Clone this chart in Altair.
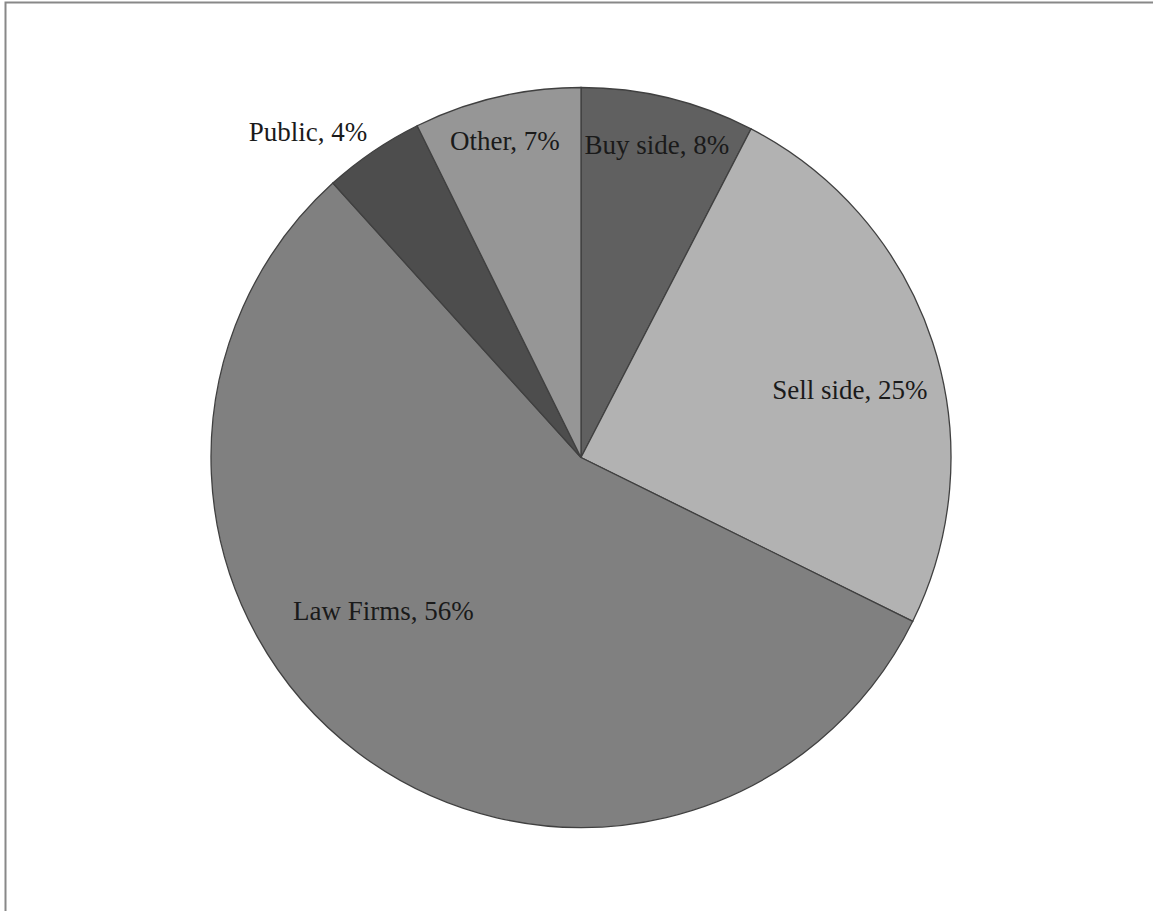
import altair as alt
import pandas as pd

categories = ["Buy side", "Sell side", "Law Firms", "Public", "Other"]
values = [7.6, 24.7, 56.0, 4.4, 7.3]
labels = ["Buy side, 8%", "Sell side, 25%", "Law Firms, 56%", "Public, 4%", "Other, 7%"]
colors = ["#606060", "#b2b2b2", "#808080", "#4d4d4d", "#969696"]

df = pd.DataFrame({"cat": categories, "value": values, "label": labels,
                   "idx": list(range(len(categories)))})

CX, CY, R = 581, 457.5, 370
# label placement (radius in px, angle shift in degrees)
label_r = {"Buy side": 321, "Sell side": 277, "Law Firms": 251, "Public": 424, "Other": 325}
label_shift = {"Buy side": 0, "Sell side": 4.3, "Law Firms": 14.9, "Public": -5.9, "Other": -0.4}

r_expr = " : ".join([f"datum.cat == '{k}' ? {v}" for k, v in label_r.items()]) + " : 300"
s_expr = " : ".join([f"datum.cat == '{k}' ? {v}" for k, v in label_shift.items()]) + " : 0"

base = alt.Chart(df)

pie = base.mark_arc(outerRadius=R, stroke="#404040", strokeWidth=1.3).encode(
    theta=alt.Theta("value:Q", stack=True),
    order=alt.Order("idx:Q"),
    color=alt.Color("cat:N", scale=alt.Scale(domain=categories, range=colors), legend=None),
    x=alt.value(CX),
    y=alt.value(CY),
)

text = base.transform_window(
    cum="sum(value)", sort=[alt.SortField("idx")]
).transform_calculate(
    lr=r_expr, ls=s_expr
).transform_calculate(
    ang="(datum.cum - datum.value/2)/100*2*PI + datum.ls*PI/180"
).transform_calculate(
    px=f"{CX} + datum.lr*sin(datum.ang)",
    py=f"{CY} - datum.lr*cos(datum.ang)",
).mark_text(font="Liberation Serif", fontSize=27, color="#1a1a1a",
            align="center", baseline="middle").encode(
    x=alt.X("px:Q", scale=None),
    y=alt.Y("py:Q", scale=None),
    text="label:N",
)

frame = alt.Chart(pd.DataFrame({"a": [0]})).mark_rect(
    fill=None, fillOpacity=0, stroke="#888888", strokeWidth=2
).encode(
    x=alt.value(5.5), x2=alt.value(1170), y=alt.value(2.5), y2=alt.value(930)
)

chart = alt.layer(frame, pie, text).properties(
    width=1153, height=911,
    autosize=alt.AutoSizeParams(type="none"),
    padding=0,
    background="white",
).configure_view(strokeWidth=0)

chart.save("out.html", embed_options={"renderer": "svg", "actions": False})
